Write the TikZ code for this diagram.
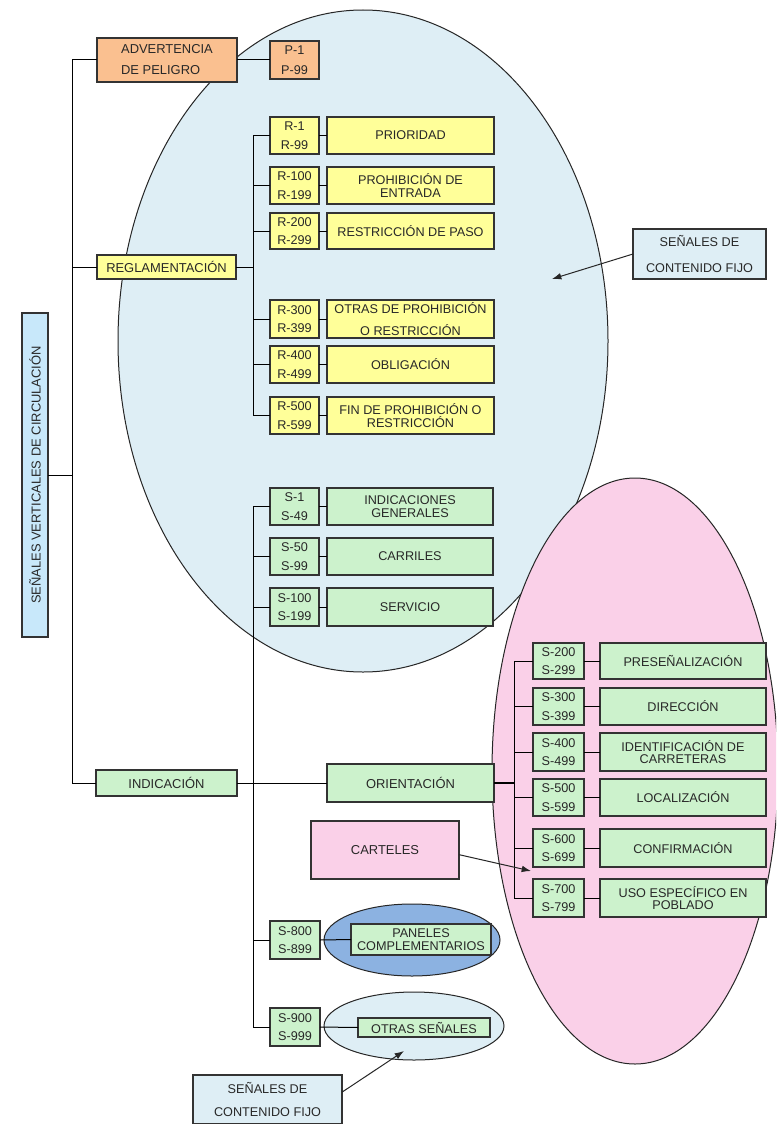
\documentclass[tikz,border=0pt]{standalone}
\usepackage{fontspec}
\setmainfont{Liberation Sans}
\usetikzlibrary{arrows.meta,calc}
\definecolor{cOr}{RGB}{250,192,144}
\definecolor{cYe}{RGB}{255,255,153}
\definecolor{cGr}{RGB}{204,242,204}
\definecolor{cPk}{RGB}{250,208,232}
\definecolor{cLB}{RGB}{222,238,245}
\definecolor{cSV}{RGB}{200,232,250}
\definecolor{cDB}{RGB}{140,178,225}
\definecolor{cTx}{RGB}{40,40,40}
\newcommand{\mybox}[7]{\node[#6, minimum width={(#4-#2)*0.75pt}, minimum height={(#5-#3)*0.75pt}] (#1) at ({(#2+#4)/2},{(#3+#5)/2}) {#7};}
\tikzset{
  bx/.style={draw=black!80, line width=0.8pt, inner sep=0pt, outer sep=0pt, align=center, text=cTx},
  codebx/.style={bx, font=\fontsize{9.5}{14}\selectfont},
  lblbx/.style={bx, font=\fontsize{9.5}{9.5}\selectfont},
  mainbx/.style={bx, font=\fontsize{9.7}{12}\selectfont},
  ln/.style={draw=black, line width=0.75pt},
  arr/.style={draw=black!85, line width=0.75pt, -{Latex[length=7pt,width=5pt]}},
  ell/.style={draw=black!85, line width=0.75pt}
}
\begin{document}
\begin{tikzpicture}[x=0.75pt,y=-0.75pt]
\useasboundingbox (0,0) rectangle (776,1124);
\clip (0,0) rectangle (776,1124);
\fill[white] (0,0) rectangle (776,1124);
% big ellipses
\draw[ell, fill=cLB] (363,341) ellipse [x radius=183.75pt, y radius=248.25pt];
\draw[ell, fill=cPk] (635,771) ellipse [x radius=107.25pt, y radius=219.75pt];
\draw[ell, fill=cDB] (412,940) ellipse [x radius=66pt, y radius=27pt];
\draw[ell, fill=cLB] (414,1026) ellipse [x radius=67.5pt, y radius=25.5pt];
% main nodes
\node[mainbx, fill=cSV, rotate=90, minimum width=243pt, minimum height=19.5pt] (sv) at (35,475) {SEÑALES VERTICALES DE CIRCULACIÓN};
\mybox{adv}{97}{38}{237}{82}{bx, fill=cOr, align=left, font=\fontsize{9.7}{15.75}\selectfont}{ADVERTENCIA\\DE PELIGRO}
\mybox{p}{270}{41}{319}{79}{bx, fill=cOr, font=\fontsize{9.5}{15}\selectfont}{P-1\\P-99}
\mybox{reg}{97}{255}{236}{279}{mainbx, fill=cYe}{REGLAMENTACIÓN}
\mybox{ind}{96}{770}{237}{796}{mainbx, fill=cGr}{INDICACIÓN}
\mybox{ori}{327}{764}{494}{802}{mainbx, fill=cGr}{ORIENTACIÓN}
\mybox{cart}{311}{821}{459}{879}{mainbx, fill=cPk}{CARTELES}
\mybox{fix1}{633}{229}{766}{279}{bx, fill=cLB, font=\fontsize{9.5}{19}\selectfont}{SEÑALES DE\\CONTENIDO FIJO}
\mybox{fix2}{193}{1075}{342}{1124}{bx, fill=cLB, font=\fontsize{9.5}{17}\selectfont}{SEÑALES DE\\CONTENIDO FIJO}
% R group
\mybox{r1}{270}{117}{319}{154}{codebx, fill=cYe}{R-1\\R-99}
\mybox{r1l}{327}{117}{494}{154}{lblbx, fill=cYe}{PRIORIDAD}
\mybox{r2}{270}{167}{319}{204}{codebx, fill=cYe}{R-100\\R-199}
\mybox{r2l}{327}{167}{494}{204}{lblbx, fill=cYe}{PROHIBICIÓN DE\\ENTRADA}
\mybox{r3}{270}{213}{319}{249}{codebx, fill=cYe}{R-200\\R-299}
\mybox{r3l}{327}{213}{494}{249}{lblbx, fill=cYe}{RESTRICCIÓN DE PASO}
\mybox{r4}{270}{300}{319}{338}{codebx, fill=cYe}{R-300\\R-399}
\mybox{r4l}{327}{300}{494}{338}{lblbx, fill=cYe, font=\fontsize{9.5}{16}\selectfont}{OTRAS DE PROHIBICIÓN\\O RESTRICCIÓN}
\mybox{r5}{270}{346}{319}{383}{codebx, fill=cYe}{R-400\\R-499}
\mybox{r5l}{327}{346}{494}{383}{lblbx, fill=cYe}{OBLIGACIÓN}
\mybox{r6}{270}{397}{319}{434}{codebx, fill=cYe}{R-500\\R-599}
\mybox{r6l}{327}{397}{494}{434}{lblbx, fill=cYe}{FIN DE PROHIBICIÓN O\\RESTRICCIÓN}
% S group (left)
\mybox{s1}{270}{488}{319}{525}{codebx, fill=cGr}{S-1\\S-49}
\mybox{s1l}{327}{488}{493}{525}{lblbx, fill=cGr}{INDICACIONES\\GENERALES}
\mybox{s2}{270}{538}{319}{575}{codebx, fill=cGr}{S-50\\S-99}
\mybox{s2l}{327}{538}{493}{575}{lblbx, fill=cGr}{CARRILES}
\mybox{s3}{270}{588}{319}{626}{codebx, fill=cGr}{S-100\\S-199}
\mybox{s3l}{327}{588}{493}{626}{lblbx, fill=cGr}{SERVICIO}
\mybox{s8}{270}{921}{320}{959}{codebx, fill=cGr}{S-800\\S-899}
\mybox{s8l}{351}{924}{491}{955}{lblbx, fill=cGr}{PANELES\\COMPLEMENTARIOS}
\mybox{s9}{270}{1008}{320}{1046}{codebx, fill=cGr}{S-900\\S-999}
\mybox{s9l}{358}{1018}{490}{1037}{lblbx, fill=cGr}{OTRAS SEÑALES}
% orientation group
\mybox{o1}{533}{643}{584}{679}{codebx, fill=cGr}{S-200\\S-299}
\mybox{o1l}{600}{643}{766}{679}{lblbx, fill=cGr}{PRESEÑALIZACIÓN}
\mybox{o2}{533}{688}{584}{725}{codebx, fill=cGr}{S-300\\S-399}
\mybox{o2l}{600}{688}{766}{725}{lblbx, fill=cGr}{DIRECCIÓN}
\mybox{o3}{533}{733}{584}{771}{codebx, fill=cGr}{S-400\\S-499}
\mybox{o3l}{600}{733}{766}{771}{lblbx, fill=cGr}{IDENTIFICACIÓN DE\\CARRETERAS}
\mybox{o4}{533}{779}{584}{816}{codebx, fill=cGr}{S-500\\S-599}
\mybox{o4l}{600}{779}{766}{816}{lblbx, fill=cGr}{LOCALIZACIÓN}
\mybox{o5}{533}{829}{584}{867}{codebx, fill=cGr}{S-600\\S-699}
\mybox{o5l}{600}{829}{766}{867}{lblbx, fill=cGr}{CONFIRMACIÓN}
\mybox{o6}{533}{879}{584}{917}{codebx, fill=cGr}{S-700\\S-799}
\mybox{o6l}{600}{879}{766}{917}{lblbx, fill=cGr}{USO ESPECÍFICO EN\\POBLADO}
% tree coordinates
\coordinate (tA) at (72,0);
\coordinate (tR) at (253,0);
\coordinate (tO) at (514,0);
% left tree
\draw[ln] (adv.west) -- (adv.west -| tA) |- (ind.west);
\draw[ln] (reg.west) -- (reg.west -| tA);
\draw[ln] (sv.south) -- (sv.south -| tA);
\draw[ln] (adv.east) -- (p.west);
% reglamentacion tree
\draw[ln] (reg.east) -- (reg.east -| tR);
\draw[ln] (r1.west) -- (r1.west -| tR) -- (r6.west -| tR) -- (r6.west);
\foreach \n in {r2,r3,r4,r5} {\draw[ln] (\n.west) -- (\n.west -| tR);}
\foreach \n in {r1,r2,r3,r4,r5,r6} {\draw[ln] (\n.east) -- (\n l.west);}
% indicacion tree
\draw[ln] (ind.east) -- (ori.west);
\draw[ln] (s1.west) -- (s1.west -| tR) -- (s9.west -| tR) -- (s9.west);
\foreach \n in {s2,s3,s8} {\draw[ln] (\n.west) -- (\n.west -| tR);}
\foreach \n in {s1,s2,s3,s8,s9} {\draw[ln] (\n.east) -- (\n l.west);}
% orientacion tree
\draw[ln, line width=1.4pt] (ori.east) -- (ori.east -| tO);
\draw[ln] (o1.west) -- (o1.west -| tO) -- (o6.west -| tO) -- (o6.west);
\foreach \n in {o2,o3,o4,o5} {\draw[ln] (\n.west) -- (\n.west -| tO);}
\foreach \n in {o1,o2,o3,o4,o5,o6} {\draw[ln] (\n.east) -- (\n l.west);}
% arrows
\coordinate (a1) at (552,279);
\coordinate (a2) at (531,871);
\coordinate (a3) at (404,1051);
\draw[arr] (fix1.west) -- (a1);
\draw[arr] ($(cart.north east)!0.58!(cart.south east)$) -- (a2);
\draw[arr] ($(fix2.north east)!0.35!(fix2.south east)$) -- (a3);
\end{tikzpicture}
\end{document}
